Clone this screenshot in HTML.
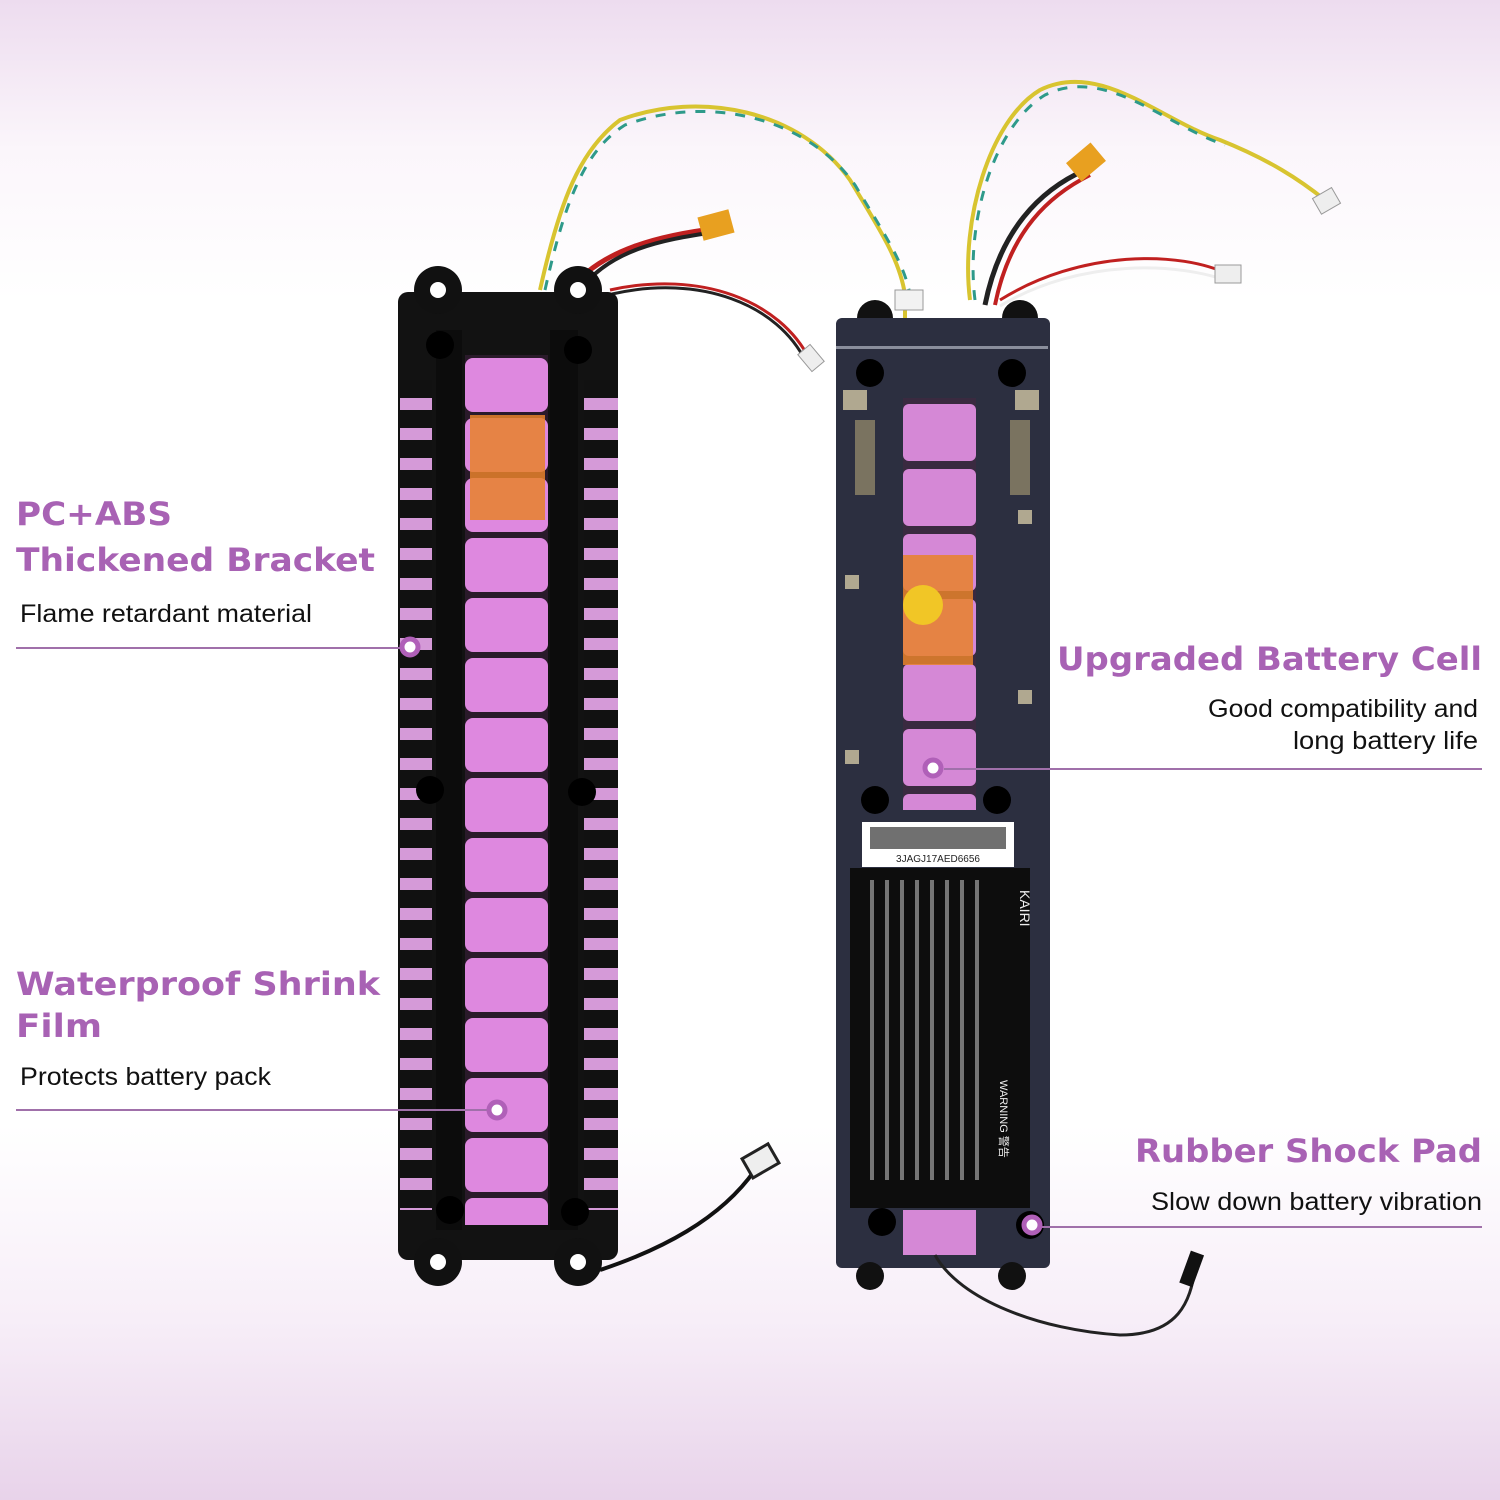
<!DOCTYPE html>
<html><head><meta charset="utf-8"><style>
html,body{margin:0;padding:0}
body{width:1500px;height:1500px;overflow:hidden;font-family:"Liberation Sans",sans-serif;background:linear-gradient(180deg,#eddcef 0%,#fbf6fb 10%,#ffffff 20%,#ffffff 75%,#f7eef8 88%,#e8d3ea 100%)}
svg{position:absolute;left:0;top:0}
</style></head><body>
<svg width="1500" height="1500" viewBox="0 0 1500 1500" xmlns="http://www.w3.org/2000/svg">
<defs>
<pattern id="fins" x="0" y="380" width="200" height="30" patternUnits="userSpaceOnUse">
<rect width="200" height="30" fill="#d59ad8"/><rect y="0" width="200" height="18" fill="#111"/>
</pattern>
<pattern id="cells" x="465" y="355" width="200" height="60" patternUnits="userSpaceOnUse">
<rect width="200" height="60" fill="#2a1a2a"/><rect x="0" y="3" width="83" height="54" rx="8" fill="#de88df"/>
</pattern>
<pattern id="rcells" x="903" y="400" width="200" height="65" patternUnits="userSpaceOnUse">
<rect width="200" height="65" fill="#3a2a40"/><rect x="0" y="4" width="73" height="57" rx="6" fill="#d588d6"/>
</pattern>
</defs>
<!-- wires left -->
<path d="M540 290 C560 200 580 150 620 120 C700 90 800 110 850 180 C880 230 900 260 905 295" stroke="#d8c430" stroke-width="4" fill="none"/>
<path d="M545 290 C565 200 585 150 625 125 C705 95 805 115 855 185 C885 235 905 265 910 295" stroke="#2e9a8a" stroke-width="3" fill="none" stroke-dasharray="10 10"/>
<path d="M570 290 C600 250 660 235 720 228" stroke="#c02020" stroke-width="5" fill="none"/>
<path d="M580 290 C610 250 660 240 715 232" stroke="#222" stroke-width="4" fill="none"/>
<rect x="700" y="213" width="32" height="24" fill="#e8a020" transform="rotate(-15 716 225)"/>
<path d="M610 290 C700 270 780 300 810 360" stroke="#c02020" stroke-width="3" fill="none"/>
<path d="M612 294 C700 274 778 304 806 362" stroke="#222" stroke-width="3" fill="none"/>
<rect x="800" y="350" width="22" height="16" fill="#eee" stroke="#999" transform="rotate(50 811 358)"/>
<!-- left pack -->
<rect x="398" y="292" width="220" height="968" rx="10" fill="#121212"/>
<circle cx="438" cy="290" r="24" fill="#111"/><circle cx="578" cy="290" r="24" fill="#111"/>
<circle cx="438" cy="290" r="8" fill="#fff"/><circle cx="578" cy="290" r="8" fill="#fff"/>
<circle cx="438" cy="1262" r="24" fill="#111"/><circle cx="578" cy="1262" r="24" fill="#111"/>
<circle cx="438" cy="1262" r="8" fill="#fff"/><circle cx="578" cy="1262" r="8" fill="#fff"/>
<rect x="400" y="380" width="32" height="830" fill="url(#fins)"/>
<rect x="584" y="380" width="34" height="830" fill="url(#fins)"/>
<rect x="465" y="355" width="83" height="870" fill="url(#cells)"/>
<rect x="470" y="415" width="75" height="105" fill="#e8822a" opacity="0.85"/>
<rect x="436" y="330" width="26" height="900" fill="#0c0c0c"/>
<rect x="550" y="330" width="28" height="900" fill="#0c0c0c"/>
<circle cx="440" cy="345" r="14" fill="#000"/><circle cx="578" cy="350" r="14" fill="#000"/>
<circle cx="430" cy="790" r="14" fill="#000"/><circle cx="582" cy="792" r="14" fill="#000"/>
<circle cx="450" cy="1210" r="14" fill="#000"/><circle cx="575" cy="1212" r="14" fill="#000"/>
<path d="M600 1270 C660 1250 720 1220 755 1170" stroke="#111" stroke-width="4" fill="none"/>
<rect x="745" y="1150" width="30" height="22" fill="#eee" stroke="#222" stroke-width="3" transform="rotate(-30 760 1160)"/>
<!-- wires right -->
<path d="M970 300 C960 220 990 120 1040 90 C1100 60 1160 120 1220 140 C1270 160 1300 180 1325 200" stroke="#d8c430" stroke-width="4" fill="none"/>
<path d="M975 300 C965 220 995 125 1045 95 C1105 65 1165 125 1225 145" stroke="#2e9a8a" stroke-width="3" fill="none" stroke-dasharray="10 10"/>
<rect x="1315" y="192" width="22" height="18" fill="#eee" stroke="#999" transform="rotate(-30 1326 200)"/>
<path d="M985 305 C1000 230 1040 190 1085 170" stroke="#222" stroke-width="5" fill="none"/>
<path d="M995 305 C1010 230 1050 195 1090 175" stroke="#c02020" stroke-width="4" fill="none"/>
<rect x="1070" y="150" width="32" height="24" fill="#e8a020" transform="rotate(-40 1086 162)"/>
<path d="M1000 300 C1080 250 1180 250 1230 275" stroke="#c02020" stroke-width="3" fill="none"/>
<path d="M1000 306 C1080 258 1180 262 1230 282" stroke="#eee" stroke-width="3" fill="none"/>
<rect x="1215" y="265" width="26" height="18" fill="#eee" stroke="#999"/>
<path d="M905 295 L905 320" stroke="#d8c430" stroke-width="4"/>
<rect x="895" y="290" width="28" height="20" fill="#f2f2f2" stroke="#999"/>
<!-- right pack -->
<circle cx="875" cy="318" r="18" fill="#111"/><circle cx="1020" cy="318" r="18" fill="#111"/>
<rect x="836" y="318" width="214" height="950" rx="6" fill="#2c2f40"/>
<rect x="836" y="346" width="212" height="3" fill="#8a8e9c"/>
<rect x="903" y="398" width="73" height="412" fill="url(#rcells)"/>
<rect x="903" y="555" width="70" height="110" fill="#e8822a" opacity="0.85"/>
<circle cx="923" cy="605" r="20" fill="#f1c626"/>
<rect x="855" y="420" width="20" height="75" fill="#7a7360"/><rect x="1010" y="420" width="20" height="75" fill="#7a7360"/>
<rect x="843" y="390" width="24" height="20" fill="#b0a890"/><rect x="1015" y="390" width="24" height="20" fill="#b0a890"/>
<rect x="845" y="575" width="14" height="14" fill="#b0a890"/><rect x="1018" y="510" width="14" height="14" fill="#b0a890"/>
<rect x="845" y="750" width="14" height="14" fill="#b0a890"/><rect x="1018" y="690" width="14" height="14" fill="#b0a890"/>
<circle cx="870" cy="373" r="14" fill="#000"/><circle cx="1012" cy="373" r="14" fill="#000"/>
<circle cx="875" cy="800" r="14" fill="#000"/><circle cx="997" cy="800" r="14" fill="#000"/>
<rect x="862" y="822" width="152" height="45" fill="#fff"/>
<rect x="870" y="827" width="136" height="22" fill="#333" opacity="0.7"/>
<text x="938" y="862" font-size="10" text-anchor="middle" fill="#222">3JAGJ17AED6656</text>
<rect x="850" y="868" width="180" height="340" fill="#0d0d0d"/>
<g fill="#bbb" opacity="0.6">
<rect x="870" y="880" width="4" height="300"/><rect x="885" y="880" width="4" height="300"/><rect x="900" y="880" width="4" height="300"/><rect x="915" y="880" width="4" height="300"/><rect x="930" y="880" width="4" height="300"/><rect x="945" y="880" width="4" height="300"/><rect x="960" y="880" width="4" height="300"/><rect x="975" y="880" width="4" height="300"/>
</g>
<text x="1020" y="890" font-size="14" fill="#eee" transform="rotate(90 1020 890)">KAIRI</text>
<text x="1000" y="1080" font-size="11" fill="#eee" transform="rotate(90 1000 1080)">WARNING 警告</text>
<rect x="903" y="1210" width="73" height="45" fill="#d588d6"/>
<circle cx="882" cy="1222" r="14" fill="#000"/><circle cx="1030" cy="1225" r="14" fill="#000"/>
<circle cx="870" cy="1276" r="14" fill="#111"/><circle cx="1012" cy="1276" r="14" fill="#111"/>
<path d="M935 1255 C960 1300 1040 1330 1120 1335 C1180 1335 1190 1300 1195 1270" stroke="#222" stroke-width="3" fill="none"/>
<rect x="1185" y="1252" width="14" height="34" fill="#111" transform="rotate(20 1192 1268)"/>
<!-- labels -->
<g font-family="'DejaVu Sans','Liberation Sans',sans-serif" font-weight="bold" fill="#a862b4" font-size="32" lengthAdjust="spacingAndGlyphs">
<text x="16" y="525" textLength="156" lengthAdjust="spacingAndGlyphs">PC+ABS</text>
<text x="16" y="571" textLength="359" lengthAdjust="spacingAndGlyphs">Thickened Bracket</text>
<text x="16" y="995" textLength="364" lengthAdjust="spacingAndGlyphs">Waterproof Shrink</text>
<text x="16" y="1037" textLength="86" lengthAdjust="spacingAndGlyphs">Film</text>
<text x="1057" y="670" textLength="425" lengthAdjust="spacingAndGlyphs">Upgraded Battery Cell</text>
<text x="1135" y="1162" textLength="347" lengthAdjust="spacingAndGlyphs">Rubber Shock Pad</text>
</g>
<g font-size="25" fill="#111">
<text x="20" y="622" textLength="292" lengthAdjust="spacingAndGlyphs">Flame retardant material</text>
<text x="20" y="1085" textLength="251" lengthAdjust="spacingAndGlyphs">Protects battery pack</text>
<text x="1208" y="717" textLength="270" lengthAdjust="spacingAndGlyphs">Good compatibility and</text>
<text x="1293" y="749" textLength="185" lengthAdjust="spacingAndGlyphs">long battery life</text>
<text x="1151" y="1210" textLength="331" lengthAdjust="spacingAndGlyphs">Slow down battery vibration</text>
</g>
<g stroke="#a070aa" stroke-width="2">
<line x1="16" y1="648" x2="400" y2="648"/>
<line x1="16" y1="1110" x2="488" y2="1110"/>
<line x1="944" y1="769" x2="1482" y2="769"/>
<line x1="1042" y1="1227" x2="1482" y2="1227"/>
</g>
<g fill="#fff" stroke="#b060b8" stroke-width="5">
<circle cx="410" cy="647" r="8"/><circle cx="497" cy="1110" r="8"/>
<circle cx="933" cy="768" r="8"/><circle cx="1032" cy="1225" r="8"/>
</g>
</svg>
</body></html>
